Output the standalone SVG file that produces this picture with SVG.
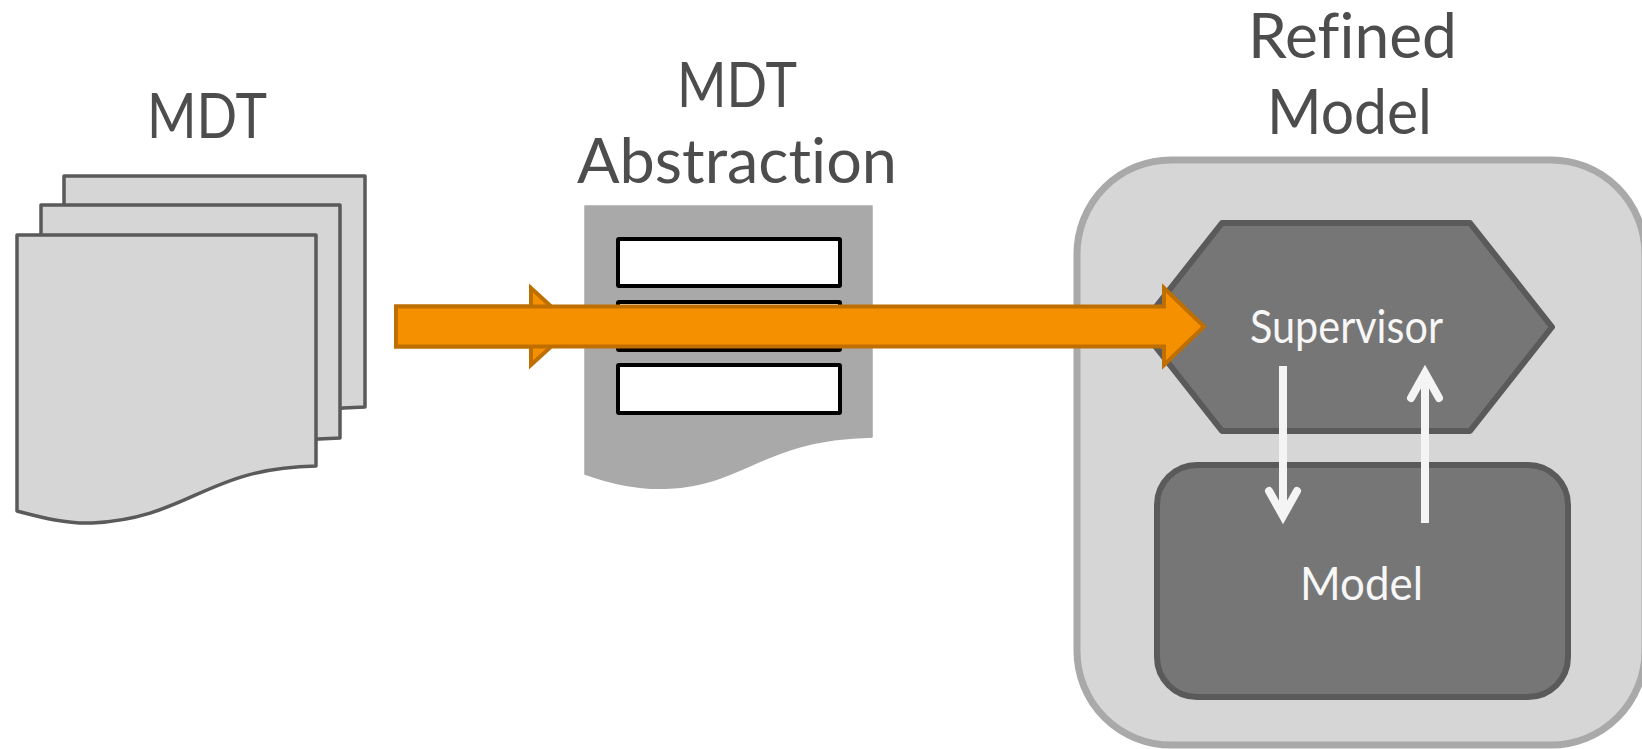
<svg xmlns="http://www.w3.org/2000/svg" width="1642" height="749" viewBox="0 0 1642 749">
<style>
.doc{fill:#d6d6d6;stroke:#5a5a5a;stroke-width:3.500;stroke-linejoin:round}
.t{font-family:"Lato","Open Sans",sans-serif;fill:#4d4d4d;font-size:62px;text-anchor:middle;font-variant-ligatures:none}
.w{font-family:"Lato","Open Sans",sans-serif;fill:#f7f7f7;font-size:46px;text-anchor:middle;font-variant-ligatures:none}
.fat{fill:#f59100;stroke:#bf6f00;stroke-width:4;stroke-linejoin:miter}
.wl{stroke:#f4f4f4;stroke-width:8;fill:none}
.wh{fill:none;stroke:#f4f4f4;stroke-width:8;stroke-linecap:round;stroke-linejoin:miter}
</style>
<g id="mdt-stack">
<path class="doc" d="M64 176H365V407C262 409 246 450 172 475C140 486 100 485 64 452Z"/>
<path class="doc" d="M41 205H340V438C238 440 222 481 148 506C116 517 76 516 41 483Z"/>
<path class="doc" d="M17 235H316V466C205 468 190 518 92 523C65 524 40 517 17 511Z"/>
<text class="t" x="207" y="138" textLength="120" lengthAdjust="spacingAndGlyphs">MDT</text>
</g>
<g id="mdt-abstraction">
<path d="M585 206H872V437C765 439 745 484 670 488C640 490 610 483 585 474Z" fill="#a9a9a9" stroke="#a9a9a9" stroke-width="1.500" stroke-linejoin="round"/>
<rect x="618" y="239" width="222" height="47" fill="#fff" stroke="#000" stroke-width="4" rx="1"/>
<rect x="618" y="302" width="222" height="48" fill="#fff" stroke="#000" stroke-width="4" rx="1"/>
<rect x="618" y="365" width="222" height="48" fill="#fff" stroke="#000" stroke-width="4" rx="1"/>
<text class="t" x="737" y="107" textLength="120" lengthAdjust="spacingAndGlyphs">MDT</text>
<text class="t" x="737" y="183" textLength="320" lengthAdjust="spacingAndGlyphs">Abstraction</text>
</g>
<g id="refined-model">
<rect x="1077" y="160" width="568" height="585" rx="94" fill="#d6d6d6" stroke="#a9a9a9" stroke-width="7"/>
<text class="t" x="1352.500" y="58" textLength="209" lengthAdjust="spacingAndGlyphs">Refined</text>
<text class="t" x="1349.500" y="134" textLength="165" lengthAdjust="spacingAndGlyphs">Model</text>
</g>
<g id="supervisor">
<path d="M1222 223H1470L1552 327L1470 431H1222L1140 327Z" fill="#767676" stroke="#5a5a5a" stroke-width="6" stroke-linejoin="round"/>
<text class="w" x="1346.500" y="343" textLength="193" lengthAdjust="spacingAndGlyphs">Supervisor</text>
</g>
<g id="model">
<rect x="1157" y="465" width="411" height="232" rx="40" fill="#767676" stroke="#5a5a5a" stroke-width="6"/>
<text class="w" x="1361.500" y="600" textLength="123" lengthAdjust="spacingAndGlyphs">Model</text>
</g>
<g id="connectors">
<path class="wl" d="M1283 366V510"/>
<path class="wh" d="M1269 491L1283 516L1297 491"/>
<path class="wl" d="M1425 523V378"/>
<path class="wh" d="M1411 398L1425 373L1439 398"/>
<path class="fat" d="M396 306.500H531V288L573 326.500L531 365V346.500H396Z"/>
<path class="fat" d="M396 306.500H1164V288L1204 326.500L1164 365V346.500H396Z"/>
</g>
</svg>
